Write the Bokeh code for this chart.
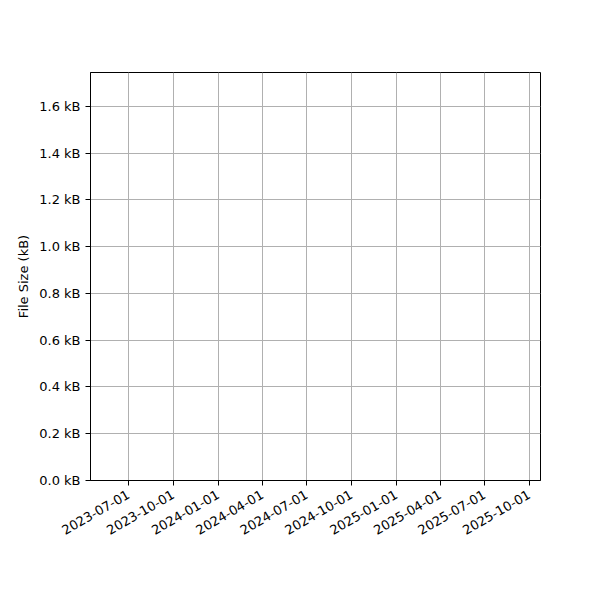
import math
from datetime import datetime

from bokeh.embed import file_html
from bokeh.models import DatetimeTickFormatter, FixedTicker, PrintfTickFormatter, Range1d
from bokeh.plotting import figure
from bokeh.resources import INLINE

# axis limits and tick positions
x_start = "2023-04-14"
x_end = "2025-10-24"
y_start = 0.0
y_end = 1.745
date_ticks = ["2023-07-01", "2023-10-01", "2024-01-01", "2024-04-01", "2024-07-01",
              "2024-10-01", "2025-01-01", "2025-04-01", "2025-07-01", "2025-10-01"]
size_ticks = [0.0, 0.2, 0.4, 0.6, 0.8, 1.0, 1.2, 1.4, 1.6]


def ms(s):
    return datetime.strptime(s, "%Y-%m-%d").timestamp() * 1000


p = figure(width=600, height=600, x_axis_type="datetime",
           x_range=Range1d(ms(x_start), ms(x_end)), y_range=Range1d(y_start, y_end),
           output_backend="svg", toolbar_location=None,
           min_border_left=90, min_border_right=60, min_border_top=72, min_border_bottom=120)

p.xaxis.ticker = FixedTicker(ticks=[ms(d) for d in date_ticks])
p.xaxis.formatter = DatetimeTickFormatter(days="%Y-%m-%d", months="%Y-%m-%d", years="%Y-%m-%d")
p.xaxis.major_label_orientation = math.pi / 6
p.xaxis.major_label_standoff = 8
p.yaxis.ticker = FixedTicker(ticks=size_ticks)
p.yaxis.formatter = PrintfTickFormatter(format="%.1f kB")
p.yaxis.axis_label = "File Size (kB)"

for ax in (p.xaxis, p.yaxis):
    ax.axis_line_color = "black"
    ax.major_tick_line_color = "black"
    ax.major_tick_out = 5
    ax.major_tick_in = 0
    ax.minor_tick_line_color = None
    ax.major_label_text_font = "DejaVu Sans"
    ax.major_label_text_font_size = "13px"
    ax.major_label_text_color = "black"
    ax.axis_label_text_font = "DejaVu Sans"
    ax.axis_label_text_font_size = "13px"
    ax.axis_label_text_font_style = "normal"
    ax.axis_label_text_color = "black"

p.grid.grid_line_color = "#b0b0b0"
p.grid.grid_line_width = 1
p.outline_line_color = "black"
p.outline_line_alpha = 1

open("out.html", "w").write(file_html(p, INLINE))
